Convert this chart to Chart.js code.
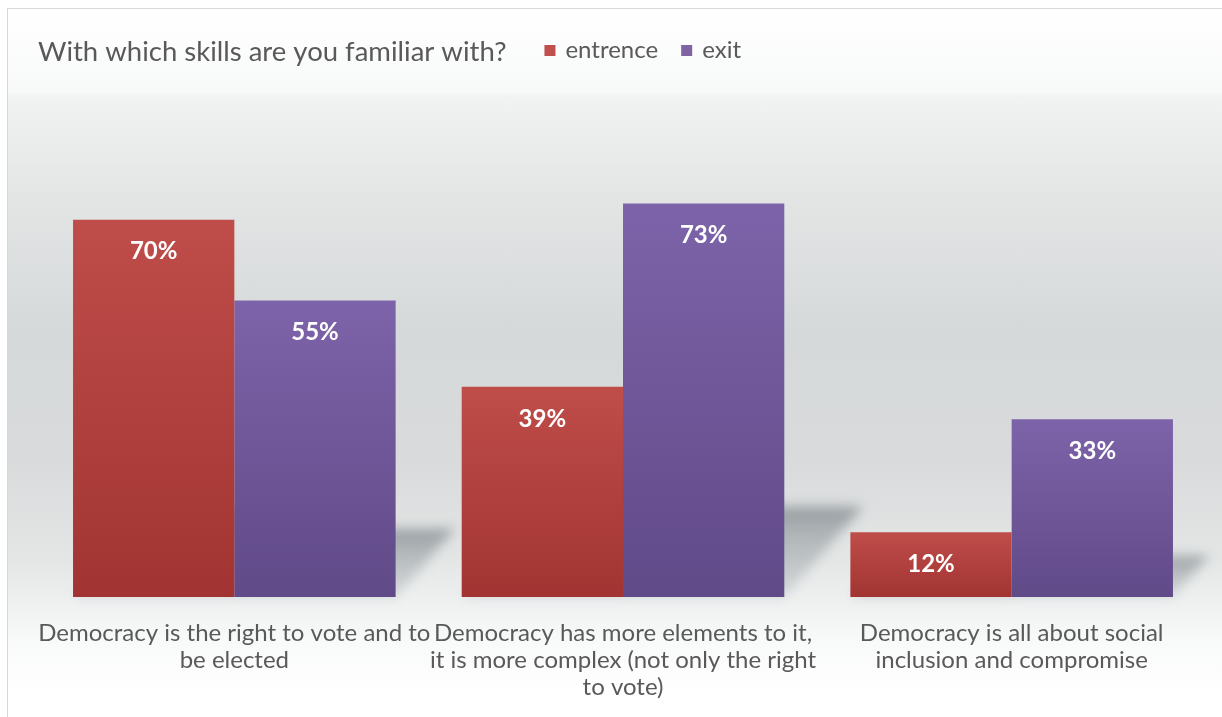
<!DOCTYPE html>
<html>
<head>
<meta charset="utf-8">
<script src="https://cdn.jsdelivr.net/npm/chart.js@4.4.1/dist/chart.umd.min.js"></script>
<style>
  html, body { margin: 0; padding: 0; background: #fff; }
  body { width: 1222px; height: 717px; position: relative; overflow: hidden; }
  #frame {
    position: absolute; left: 7px; top: 8px; width: 1240px; height: 740px;
    border: 1px solid #d9d9d9;
    background: linear-gradient(to bottom,
      #ffffff 0px, #f8f9f9 82px, #f1f2f2 88px, #e3e5e5 190px,
      #d6d9da 320px, #d8dadb 450px, #e4e6e6 550px, #eef0f0 590px,
      #f8f9f9 630px, #ffffff 680px);
  }
  #wrap { position: absolute; left: 0; top: 0; width: 1222px; height: 717px; }
</style>
</head>
<body>
<div id="frame"></div>
<div id="wrap"><canvas id="skillsChart"></canvas></div>
<script>
const chartTitle = "With which skills are you familiar with?";
const categories = [
    ["Democracy is the right to vote and to", "be elected"],
    ["Democracy has more elements to it,", "it is more complex (not only the right", "to vote)"],
    ["Democracy is all about social", "inclusion and compromise"],
];
const seriesNames = ["entrence", "exit"];
const entrenceValues = [70, 39, 12];
const exitValues = [55, 73, 33];

const red = { light: "#bf4d4a", dark: "#a13432", key: "#c0504d" };
const purple = { light: "#7d63a9", dark: "#614a88", key: "#8064a2" };

// vertical fill per bar, lighter at the top
function barFill(c) {
    return (context) => {
        const chart = context.chart;
        const y = chart.scales.y;
        if (!chart.chartArea || !y || context.type !== "data") return c.dark;
        const top = y.getPixelForValue(context.raw);
        const base = y.getPixelForValue(0);
        const g = chart.ctx.createLinearGradient(0, top, 0, base);
        g.addColorStop(0, c.light);
        g.addColorStop(1, c.dark);
        return g;
    };
}

// soft perspective shadow thrown up and to the right of each bar
const barShadows = {
    id: "barShadows",
    beforeDatasetsDraw(chart) {
        const { ctx } = chart;
        ctx.save();
        ctx.filter = "blur(6px)";
        chart.data.datasets.forEach((ds, i) => {
            chart.getDatasetMeta(i).data.forEach((bar) => {
                const { x, y, base, width } = bar.getProps(["x", "y", "base", "width"], true);
                const h = base - y;
                const x0 = x - width / 2;
                const x1 = x + width / 2;
                const dx = h * 0.2;
                const dy = h * 0.23;
                const g = ctx.createLinearGradient(0, base - dy, 0, base);
                g.addColorStop(0, "rgba(100,110,115,0.6)");
                g.addColorStop(0.3, "rgba(115,125,130,0.45)");
                g.addColorStop(1, "rgba(140,150,155,0.25)");
                ctx.fillStyle = g;
                ctx.beginPath();
                ctx.moveTo(x0, base);
                ctx.lineTo(x1, base);
                ctx.lineTo(x1 + dx, base - dy);
                ctx.lineTo(x0 + dx, base - dy);
                ctx.closePath();
                ctx.fill();
            });
        });
        ctx.restore();
    },
};

// percentage printed inside the top of every bar
const valueLabels = {
    id: "valueLabels",
    afterDatasetsDraw(chart) {
        const { ctx } = chart;
        ctx.save();
        ctx.font = "bold 24px Lato";
        ctx.fillStyle = "#ffffff";
        ctx.textAlign = "center";
        ctx.textBaseline = "middle";
        chart.data.datasets.forEach((ds, i) => {
            chart.getDatasetMeta(i).data.forEach((bar, j) => {
                ctx.fillText(ds.data[j] + "%", bar.x, bar.y + 32);
            });
        });
        ctx.restore();
    },
};

// title with the legend on the same line
const header = {
    id: "header",
    afterDraw(chart) {
        const { ctx } = chart;
        ctx.save();
        ctx.textBaseline = "middle";
        ctx.textAlign = "left";
        ctx.fillStyle = "#595959";
        ctx.font = "27.5px Lato";
        ctx.fillText(chartTitle, 38, 52);
        let x = 38 + ctx.measureText(chartTitle).width + 38;
        ctx.font = "24px Lato";
        chart.data.datasets.forEach((ds) => {
            ctx.fillStyle = ds.keyColor;
            ctx.fillRect(x, 45, 11, 11);
            x += 11 + 10;
            ctx.fillStyle = "#595959";
            ctx.fillText(ds.label, x, 50);
            x += ctx.measureText(ds.label).width + 23;
        });
        ctx.restore();
    },
};

const ctx = document.getElementById("skillsChart").getContext("2d");

new Chart(ctx, {
    type: "bar",
    data: {
        labels: categories,
        datasets: [
            {
                label: seriesNames[0],
                data: entrenceValues,
                backgroundColor: barFill(red),
                keyColor: red.key,
                borderWidth: 0,
            },
            {
                label: seriesNames[1],
                data: exitValues,
                backgroundColor: barFill(purple),
                keyColor: purple.key,
                borderWidth: 0,
            },
        ],
    },
    options: {
        responsive: true,
        maintainAspectRatio: false,
        animation: false,
        datasets: {
            bar: {
                barPercentage: 1,
                categoryPercentage: 0.83,
            },
        },
        layout: {
            padding: { left: 40, right: 16, top: 58, bottom: 17 },
        },
        plugins: {
            legend: { display: false },
            title: { display: false },
            tooltip: { enabled: false },
        },
        scales: {
            x: {
                grid: { display: false },
                border: { display: false },
                afterFit(scale) {
                    scale.height = 103;
                },
                ticks: {
                    color: "#595959",
                    font: { family: "Lato", size: 24, lineHeight: 1.125 },
                    padding: 15,
                    maxRotation: 0,
                    autoSkip: false,
                },
            },
            y: {
                display: false,
                min: 0,
                max: 100,
            },
        },
    },
    plugins: [barShadows, valueLabels, header],
});
</script>
</body>
</html>
